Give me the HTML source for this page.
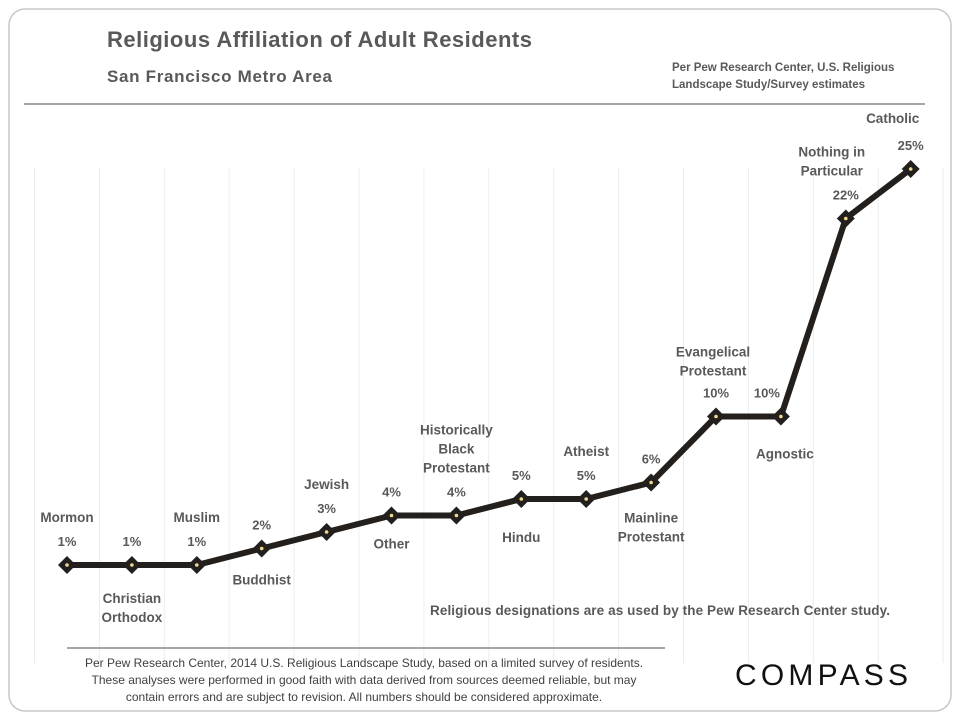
<!DOCTYPE html>
<html><head><meta charset="utf-8"><style>
body{margin:0;background:#fff;width:960px;height:720px;overflow:hidden;font-family:"Liberation Sans",sans-serif}
</style></head><body>
<svg width="960" height="720" style="position:absolute;left:0;top:0">
<rect x="9" y="9" width="942" height="702" rx="16" fill="#fff" stroke="#c8c8c8" stroke-width="1.5"/>
<text x="107" y="47" font-size="22" font-weight="bold" fill="#595959" textLength="425">Religious Affiliation of Adult Residents</text>
<text x="107" y="82" font-size="17" font-weight="bold" fill="#595959" textLength="225">San Francisco Metro Area</text>
<text x="672" y="71" font-size="11.5" font-weight="bold" fill="#595959">Per Pew Research Center, U.S. Religious</text>
<text x="672" y="88" font-size="11.5" font-weight="bold" fill="#595959">Landscape Study/Survey estimates</text>
<line x1="24" y1="104" x2="925" y2="104" stroke="#a6a6a6" stroke-width="2"/>
<g id="grid"></g>
<g id="series"></g>
<g id="labels"></g>
<text x="430" y="615" font-size="13.5" font-weight="bold" fill="#595959" textLength="460">Religious designations are as used by the Pew Research Center study.</text>
<line x1="67" y1="648" x2="665" y2="648" stroke="#a6a6a6" stroke-width="2"/>
<g font-size="12" fill="#404040" text-anchor="middle">
<text x="364" y="667">Per Pew Research Center, 2014 U.S. Religious Landscape Study, based on a limited survey of residents.</text>
<text x="364" y="684">These analyses were performed in good faith with data derived from sources deemed reliable, but may</text>
<text x="364" y="701">contain errors and are subject to revision.  All numbers should be considered approximate.</text>
</g>
<text x="735" y="685" font-size="30" fill="#111" textLength="173">COMPASS</text>
</svg>
<script>
const categories=["Mormon","Christian Orthodox","Muslim","Buddhist","Jewish","Other","Historically Black Protestant","Hindu","Atheist","Mainline Protestant","Evangelical Protestant","Agnostic","Nothing in Particular","Catholic"];
const values=[1,1,1,2,3,4,4,5,5,6,10,10,22,25];
const valueLabels=["1%","1%","1%","2%","3%","4%","4%","5%","5%","6%","10%","10%","22%","25%"];
const catLines=[["Mormon"],["Christian","Orthodox"],["Muslim"],["Buddhist"],["Jewish"],["Other"],["Historically","Black","Protestant"],["Hindu"],["Atheist"],["Mainline","Protestant"],["Evangelical","Protestant"],["Agnostic"],["Nothing in","Particular"],["Catholic"]];
const catAbove=[true,false,true,false,true,false,true,false,true,false,true,false,true,true];
const NS="http://www.w3.org/2000/svg";
const x=i=>67+i*64.9;
const y=v=>581.5-v*16.5;
function mk(t,a,p){const e=document.createElementNS(NS,t);for(const k in a)e.setAttribute(k,a[k]);p.appendChild(e);return e;}
const grid=document.getElementById('grid'),ser=document.getElementById('series'),lab=document.getElementById('labels');
for(let i=0;i<=14;i++){const gx=x(i)-32.5;const l=mk('line',{x1:gx,y1:168,x2:gx,y2:663,stroke:'#ececec','stroke-width':1},grid);

}
const pl=mk('polyline',{points:values.map((v,i)=>x(i)+','+y(v)).join(' '),fill:'none',stroke:'#231f1c','stroke-width':6,'stroke-linejoin':'miter'},ser);


const dxVal=[0,0,0,0,0,0,0,0,0,0,0,-14,0,0];
const dxCat=[0,0,0,0,0,0,0,0,0,0,-3,4,-14,-18];
const belowOff=[0,38,0,36,0,33,0,43,0,40,0,42,0,0];
values.forEach((v,i)=>{const cx=x(i),cy=y(v);
const m=mk('polygon',{points:`${cx},${cy-9} ${cx+9},${cy} ${cx},${cy+9} ${cx-9},${cy}`,fill:'#231f1c'},ser);


mk('circle',{cx:cx,cy:cy,r:1.8,fill:'#f0d890'},ser);
const vt=mk('text',{x:cx+dxVal[i],y:cy-19,'font-size':13,'font-weight':'bold',fill:'#595959','text-anchor':'middle'},lab);vt.textContent=valueLabels[i];


const lines=catLines[i];
let base;
if(catAbove[i]) base=cy-19-24-(lines.length-1)*19; else base=cy+belowOff[i];
if(i===12) base=cy-62; if(i===13) base=cy-46;
if(i===10) base=cy-60;
lines.forEach((s,k)=>{const t=mk('text',{x:cx+dxCat[i],y:base+k*19,'font-size':13.5,'font-weight':'bold',fill:'#595959','text-anchor':'middle'},lab);t.textContent=s;

});
});
</script>
</body></html>
